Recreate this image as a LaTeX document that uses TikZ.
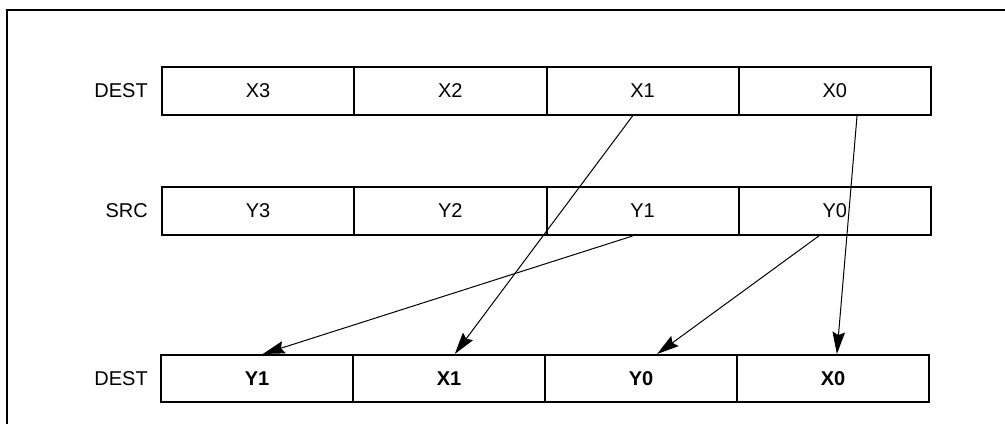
\documentclass[tikz,border=0pt]{standalone}
\usepackage{fontspec}
\setmainfont{Liberation Sans}
\usetikzlibrary{arrows.meta,calc}
\begin{document}
\begin{tikzpicture}[x=1pt,y=-1pt,
  cell/.style={draw,line width=2pt,minimum width=192.25pt,minimum height=48pt,inner sep=0pt,font=\fontsize{20}{24}\selectfont},
  bcell/.style={cell,minimum width=192pt,minimum height=47pt,font=\fontsize{20}{24}\selectfont\bfseries},
  lbl/.style={anchor=east,inner sep=0pt,font=\fontsize{20}{24}\selectfont},
  conn/.style={line width=1pt,-{Stealth[length=22pt,width=12.5pt,inset=3pt]}}]
\useasboundingbox (0,0) rectangle (1005,424);
\draw[line width=2pt] (7,424) -- (7,10) -- (1005,10);
% top row
\node[cell] (x3) at (258.125,91) {X3};
\node[cell] (x2) at (450.375,91) {X2};
\node[cell] (x1) at (642.625,91) {X1};
\node[cell] (x0) at (834.875,91) {X0};
\node[lbl] (ldest) at (148,91) {DEST};
% middle row
\node[cell] (y3) at (258.125,211) {Y3};
\node[cell] (y2) at (450.375,211) {Y2};
\node[cell] (y1) at (642.625,211) {Y1};
\node[cell] (y0) at (834.875,211) {Y0};
\node[lbl] (lsrc) at (148,211) {SRC};
% bottom row
\node[bcell] (r3) at (257,378.5) {Y1};
\node[bcell] (r2) at (449,378.5) {X1};
\node[bcell] (r1) at (641,378.5) {Y0};
\node[bcell] (r0) at (833,378.5) {X0};
\node[lbl] (ldest2) at (148,378.5) {DEST};
% arrows
\draw[conn] ($(x1.south west)!0.448!(x1.south east)$) -- ($(r2.north west)!0.53!(r2.north east)$);
\draw[conn] ($(x0.south west)!0.614!(x0.south east)$) -- ($(r0.north west)!0.52!(r0.north east)$);
\draw[conn] ($(y1.south west)!0.448!(y1.south east)$) -- ($(r3.north west)!0.53!(r3.north east)$);
\draw[conn] ($(y0.south west)!0.417!(y0.south east)$) -- ($(r1.north west)!0.583!(r1.north east)$);
\end{tikzpicture}
\end{document}
